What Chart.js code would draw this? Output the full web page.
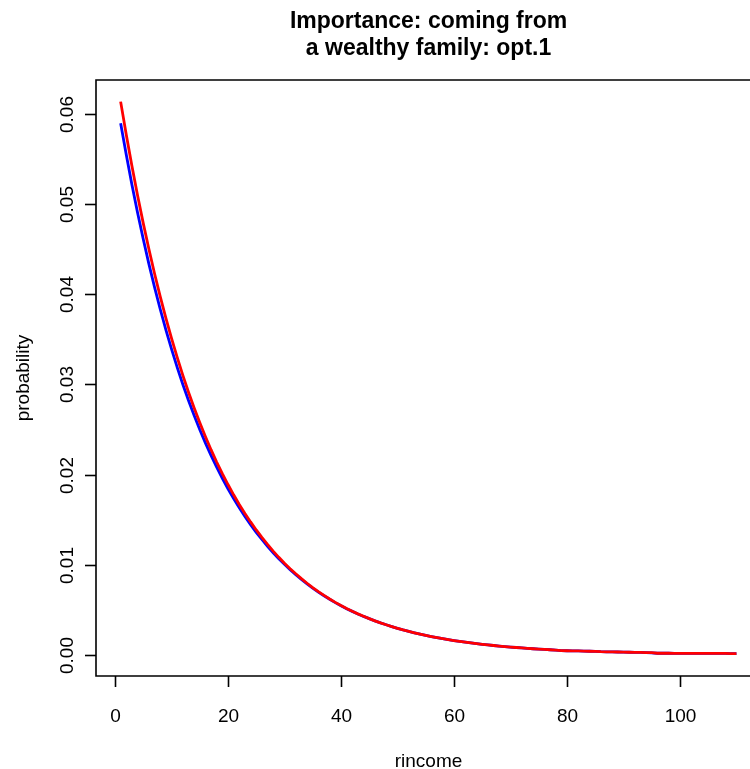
<!DOCTYPE html>
<html>
<head>
<meta charset="utf-8">
<script src="https://cdn.jsdelivr.net/npm/chart.js@4/dist/chart.umd.min.js"></script>
<style>
  html, body { margin: 0; padding: 0; background: #fff; }
  canvas { display: block; }
</style>
</head>
<body>
<canvas id="c" width="750" height="769"></canvas>
<script>
// ---- data ----
const titleLines = ['Importance: coming from', 'a wealthy family: opt.1'];
const xTitle = 'rincome';
const yTitle = 'probability';

const xTicks = [0, 20, 40, 60, 80, 100];
const xTickLabels = ['0', '20', '40', '60', '80', '100'];
const yTicks = [0, 0.01, 0.02, 0.03, 0.04, 0.05, 0.06];
const yTickLabels = ['0.00', '0.01', '0.02', '0.03', '0.04', '0.05', '0.06'];

const rincome = [
  1,2,3,4,5,6,7,8,9,10,11,12,13,14,15,16,17,18,19,20,
  21,22,23,24,25,26,27,28,29,30,31,32,33,34,35,36,37,38,39,40,
  41,42,43,44,45,46,47,48,49,50,51,52,53,54,55,56,57,58,59,60,
  61,62,63,64,65,66,67,68,69,70,71,72,73,74,75,76,77,78,79,80,
  81,82,83,84,85,86,87,88,89,90,91,92,93,94,95,96,97,98,99,100,
  101,102,103,104,105,106,107,108,109,110
];

const redProb = [
  0.06140,0.05771,0.05424,0.05098,0.04791,0.04503,0.04232,0.03978,0.03739,0.03514,
  0.03303,0.03104,0.02917,0.02742,0.02577,0.02422,0.02276,0.02139,0.02010,0.01889,
  0.01775,0.01668,0.01568,0.01474,0.01385,0.01302,0.01224,0.01150,0.01081,0.01016,
  0.00955,0.00898,0.00844,0.00793,0.00745,0.00700,0.00658,0.00618,0.00581,0.00546,
  0.00513,0.00482,0.00453,0.00426,0.00400,0.00376,0.00353,0.00332,0.00312,0.00293,
  0.00275,0.00259,0.00243,0.00228,0.00214,0.00201,0.00189,0.00178,0.00167,0.00157,
  0.00148,0.00139,0.00130,0.00122,0.00115,0.00108,0.00102,0.00096,0.00090,0.00085,
  0.00080,0.00075,0.00070,0.00066,0.00062,0.00058,0.00055,0.00050,0.00046,0.00044,
  0.00043,0.00042,0.00040,0.00038,0.00036,0.00033,0.00032,0.00031,0.00030,0.00028,
  0.00027,0.00026,0.00025,0.00024,0.00022,0.00016,0.00016,0.00016,0.00015,0.00015,
  0.00015,0.00015,0.00015,0.00014,0.00014,0.00014,0.00014,0.00014,0.00013,0.00013
];

const blueProb = [
  0.05901,0.05549,0.05218,0.04907,0.04614,0.04339,0.04081,0.03838,0.03610,0.03395,
  0.03193,0.03003,0.02825,0.02658,0.02500,0.02352,0.02212,0.02081,0.01958,0.01842,
  0.01733,0.01630,0.01534,0.01444,0.01359,0.01279,0.01204,0.01132,0.01066,0.01003,
  0.00944,0.00888,0.00836,0.00786,0.00739,0.00695,0.00654,0.00615,0.00578,0.00544,
  0.00511,0.00481,0.00452,0.00425,0.00400,0.00376,0.00353,0.00332,0.00312,0.00293,
  0.00275,0.00259,0.00243,0.00228,0.00214,0.00201,0.00189,0.00178,0.00167,0.00157,
  0.00148,0.00139,0.00130,0.00122,0.00115,0.00108,0.00102,0.00096,0.00090,0.00085,
  0.00080,0.00075,0.00070,0.00066,0.00062,0.00058,0.00055,0.00050,0.00046,0.00044,
  0.00043,0.00042,0.00040,0.00038,0.00036,0.00033,0.00032,0.00031,0.00030,0.00028,
  0.00027,0.00026,0.00025,0.00024,0.00021,0.00016,0.00016,0.00016,0.00015,0.00015,
  0.00015,0.00015,0.00015,0.00014,0.00014,0.00014,0.00014,0.00014,0.00013,0.00013
];

// ---- drawing ----
const FONT = '"Liberation Sans", Arial, Helvetica, sans-serif';

const rAxesPlugin = {
  id: 'rAxes',
  afterDraw(chart) {
    const ctx = chart.ctx;
    const xs = chart.scales.x, ys = chart.scales.y;
    const area = chart.chartArea;
    const cx = (xs.getPixelForValue(xs.min) + xs.getPixelForValue(114.36)) / 2;
    ctx.save();
    // box
    ctx.strokeStyle = '#000';
    ctx.lineWidth = 1.6;
    ctx.beginPath();
    ctx.moveTo(area.right + 20, area.top);
    ctx.lineTo(area.left, area.top);
    ctx.lineTo(area.left, area.bottom);
    ctx.lineTo(area.right + 20, area.bottom);
    ctx.stroke();

    ctx.fillStyle = '#000';
    ctx.font = '19px ' + FONT;

    // x axis ticks + labels
    ctx.textAlign = 'center';
    ctx.textBaseline = 'alphabetic';
    xTicks.forEach((v, i) => {
      const px = Math.round(xs.getPixelForValue(v)) + 0.5;
      ctx.beginPath();
      ctx.moveTo(px, area.bottom);
      ctx.lineTo(px, area.bottom + 11);
      ctx.stroke();
      ctx.fillText(xTickLabels[i], px, area.bottom + 46);
    });

    // y axis ticks + rotated labels
    yTicks.forEach((v, i) => {
      const py = Math.round(ys.getPixelForValue(v)) + 0.5;
      ctx.beginPath();
      ctx.moveTo(area.left, py);
      ctx.lineTo(area.left - 11, py);
      ctx.stroke();
      ctx.save();
      ctx.translate(area.left - 23, py);
      ctx.rotate(-Math.PI / 2);
      ctx.textAlign = 'center';
      ctx.fillText(yTickLabels[i], 0, 0);
      ctx.restore();
    });

    // axis titles
    ctx.textAlign = 'center';
    ctx.fillText(xTitle, cx, 767);
    ctx.save();
    ctx.translate(29, (area.top + area.bottom) / 2);
    ctx.rotate(-Math.PI / 2);
    ctx.fillText(yTitle, 0, 0);
    ctx.restore();

    // title
    ctx.font = 'bold 23px ' + FONT;
    ctx.fillText(titleLines[0], cx, 28);
    ctx.fillText(titleLines[1], cx, 55);
    ctx.restore();
  }
};

new Chart(document.getElementById('c'), {
  type: 'line',
  data: {
    datasets: [
      {
        label: 'red',
        data: rincome.map((x, i) => ({ x: x, y: redProb[i] })),
        borderColor: '#ff0000',
        borderWidth: 2.8,
        pointRadius: 0,
        tension: 0,
        fill: false,
        order: 0
      },
      {
        label: 'blue',
        data: rincome.map((x, i) => ({ x: x, y: blueProb[i] })),
        borderColor: '#0000ff',
        borderWidth: 2.8,
        pointRadius: 0,
        tension: 0,
        fill: false,
        order: 1
      }
    ]
  },
  options: {
    responsive: false,
    animation: false,
    devicePixelRatio: 1,
    layout: { padding: { left: 96, top: 80, right: 0, bottom: 93 } },
    scales: {
      x: {
        type: 'linear', display: false, min: -3.36, max: 112.4,
        afterBuildTicks: s => { s.ticks = xTicks.map(v => ({ value: v })); }
      },
      y: {
        type: 'linear', display: false, min: -0.002365, max: 0.0638,
        afterBuildTicks: s => { s.ticks = yTicks.map(v => ({ value: v })); }
      }
    },
    plugins: { legend: { display: false }, tooltip: { enabled: false }, title: { display: false } }
  },
  plugins: [rAxesPlugin]
});
</script>
</body>
</html>
